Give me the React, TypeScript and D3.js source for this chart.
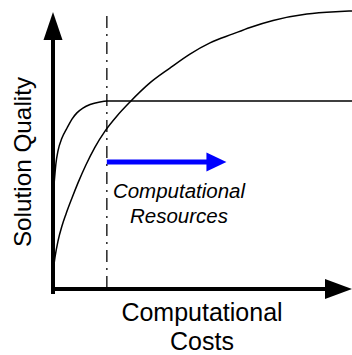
import React, { useEffect, useRef } from "react";
import * as d3 from "d3";

// fast solver: rises quickly, then plateaus
const fastCost = [0, 0.33, 0.67, 1.0, 1.67, 3.0, 4.7, 6.35, 8.0, 10.0, 12.4, 15.7, 18.1, 100];
const fastQuality = [31.8, 37.1, 41.4, 45.0, 49.3, 53.9, 57.5, 60.7, 62.9, 64.6, 65.9, 66.8, 67.1, 67.1];

// slow solver: keeps improving with more resources
const slowCost = [0, 0.67, 1.67, 3.0, 4.35, 6.35, 8.36, 11.0, 14.05, 17.4, 21.4, 25.75, 32.4, 39.1, 45.8, 52.5, 60.2, 65.9, 73.6, 84.9, 96, 100];
const slowQuality = [6.1, 11.4, 17.1, 22.5, 26.8, 32.5, 37.9, 44.3, 50.7, 56.4, 61.8, 66.8, 73.6, 78.9, 83.9, 87.9, 91.1, 93.4, 95.9, 98.2, 99.1, 99.3];

const budgetCost = 18;
const resourceArrow = { from: 18, to: 58, quality: 45.4 };

const xTitle = ["Computational", "Costs"];
const yTitle = "Solution Quality";
const arrowLabel = ["Computational", "Resources"];

const App = () => {
  const svgRef = useRef<SVGSVGElement>(null);

  useEffect(() => {
    const width = 352;
    const height = 355;
    const font = "Arial, 'Liberation Sans', sans-serif";

    const svg = d3.select(svgRef.current);
    svg.selectAll("*").remove();
    svg.attr("width", width).attr("height", height);

    const x = d3.scaleLinear().domain([0, 100]).range([53, 352]);
    const y = d3.scaleLinear().domain([0, 100]).range([289, 9]);

    const line = d3
      .line<[number, number]>()
      .x((d) => x(d[0]))
      .y((d) => y(d[1]))
      .curve(d3.curveMonotoneX);

    // budget marker
    svg.append("line")
      .attr("x1", x(budgetCost))
      .attr("x2", x(budgetCost))
      .attr("y1", 16)
      .attr("y2", y(0))
      .attr("stroke", "#333")
      .attr("stroke-width", 1.6)
      .attr("stroke-dasharray", "12 6 2 6");

    svg.append("path")
      .datum(fastCost.map((c, i) => [c, fastQuality[i]] as [number, number]))
      .attr("d", line)
      .attr("fill", "none")
      .attr("stroke", "#000")
      .attr("stroke-width", 1.5);

    svg.append("path")
      .datum(slowCost.map((c, i) => [c, slowQuality[i]] as [number, number]))
      .attr("d", line)
      .attr("fill", "none")
      .attr("stroke", "#000")
      .attr("stroke-width", 1.5);

    // axes with arrow heads
    const x0 = x(0);
    const y0 = y(0);
    svg.append("line")
      .attr("x1", x0).attr("x2", x0)
      .attr("y1", y0 + 5).attr("y2", 38)
      .attr("stroke", "#000").attr("stroke-width", 4);
    svg.append("path")
      .attr("d", `M${x0 - 9.5},40 L${x0},12 L${x0 + 9.5},40 Z`)
      .attr("fill", "#000");

    svg.append("line")
      .attr("x1", x0 - 2).attr("x2", 327)
      .attr("y1", y0).attr("y2", y0)
      .attr("stroke", "#000").attr("stroke-width", 4);
    svg.append("path")
      .attr("d", `M325,${y0 - 10} L${x(100)},${y0} L325,${y0 + 10} Z`)
      .attr("fill", "#000");

    // resources arrow
    const ay = y(resourceArrow.quality);
    const ax2 = x(resourceArrow.to);
    svg.append("line")
      .attr("x1", x(resourceArrow.from)).attr("x2", ax2 - 18)
      .attr("y1", ay).attr("y2", ay)
      .attr("stroke", "#0000ff").attr("stroke-width", 5);
    svg.append("path")
      .attr("d", `M${ax2 - 20},${ay - 9.5} L${ax2},${ay} L${ax2 - 20},${ay + 9.5} Z`)
      .attr("fill", "#0000ff");

    svg.append("text")
      .attr("x", 179)
      .attr("y", 198)
      .attr("text-anchor", "middle")
      .attr("font-family", font)
      .attr("font-style", "italic")
      .attr("font-size", 20.5)
      .selectAll("tspan")
      .data(arrowLabel)
      .join("tspan")
      .attr("x", 179)
      .attr("dy", (d, i) => (i === 0 ? 0 : 25))
      .text((d) => d);

    svg.append("text")
      .attr("text-anchor", "middle")
      .attr("font-family", font)
      .attr("font-size", 25)
      .selectAll("tspan")
      .data(xTitle)
      .join("tspan")
      .attr("x", 202)
      .attr("y", (d, i) => 321 + i * 29)
      .text((d) => d);

    svg.append("text")
      .attr("transform", "translate(31,162) rotate(-90)")
      .attr("text-anchor", "middle")
      .attr("font-family", font)
      .attr("font-size", 24.3)
      .text(yTitle);
  }, []);

  return (
    <svg
      ref={svgRef}
      style={{ position: "absolute", left: 0, top: 0, background: "#fff" }}
    />
  );
};

export default App;
